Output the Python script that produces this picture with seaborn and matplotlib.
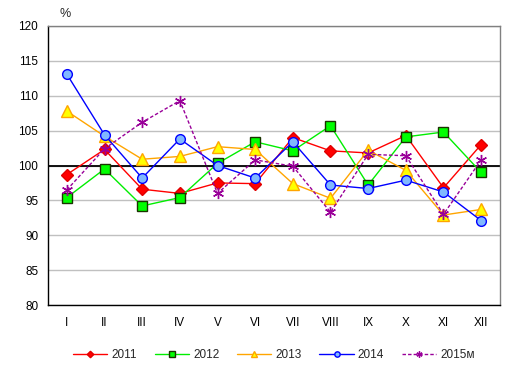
import pandas as pd
import matplotlib
matplotlib.use('Agg')
import matplotlib.pyplot as plt
import seaborn as sns

MONTHS = ['I', 'II', 'III', 'IV', 'V', 'VI', 'VII', 'VIII', 'IX', 'X', 'XI', 'XII']

Y2011 = [98.7, 102.3, 96.6, 96.0, 97.5, 97.4, 104.0, 102.1, 101.8, 104.3, 96.8, 103.0]
Y2012 = [95.4, 99.5, 94.2, 95.4, 100.3, 103.4, 102.1, 105.7, 97.2, 104.1, 104.8, 99.0]
Y2013 = [107.8, 104.2, 100.9, 101.3, 102.7, 102.3, 97.4, 95.3, 102.2, 99.3, 92.9, 93.7]
Y2014 = [113.1, 104.4, 98.2, 103.8, 100.0, 98.2, 103.4, 97.2, 96.7, 97.9, 96.2, 92.1]
Y2015 = [96.5, 102.4, 106.2, 109.3, 96.0, 100.8, 99.9, 93.3, 101.6, 101.4, 93.0, 100.8]

SERIES = [
    ('2011', Y2011, dict(color='#FF0000', marker='D', markersize=6, markerfacecolor='#FF0000',
                         markeredgecolor='#E00000', linestyle='-')),
    ('2012', Y2012, dict(color='#00EE00', marker='s', markersize=7, markerfacecolor='#00FF00',
                         markeredgecolor='#1A3300', linestyle='-')),
    ('2013', Y2013, dict(color='#FFA500', marker='^', markersize=8, markerfacecolor='#FFFF00',
                         markeredgecolor='#FFA500', linestyle='-')),
    ('2014', Y2014, dict(color='#0000FF', marker='o', markersize=7, markerfacecolor='#80B8FF',
                         markeredgecolor='#0000FF', linestyle='-')),
    ('2015м', Y2015, dict(color='#990099', marker=(6, 2, 0), markersize=8, markerfacecolor='#990099',
                          markeredgecolor='#990099', linestyle=(0, (2.5, 1.5)))),
]

sns.set_theme(style='white')
plt.rcParams['font.family'] = ['Liberation Sans', 'DejaVu Sans']

fig = plt.figure(figsize=(5.14, 3.92), dpi=100)
ax = fig.add_axes([48 / 514, 87 / 392, 452 / 514, 279 / 392])

x = list(range(len(MONTHS)))
for i, (name, vals, style) in enumerate(SERIES):
    sns.lineplot(x=x, y=vals, ax=ax, label=name, linewidth=1, markeredgewidth=1,
                 zorder=3 + i, **style)

ax.axhline(100, color='black', linewidth=1.3, zorder=2)

ax.set_xlim(-0.5, 11.5)
ax.set_ylim(80, 120)
ax.set_yticks(range(80, 121, 5))
ax.set_xticks(x)
ax.set_xticklabels(MONTHS)
ax.yaxis.grid(True, color='#C0C0C0', linewidth=1)
ax.xaxis.grid(False)
ax.tick_params(axis='both', length=0, labelsize=8.5, colors='black')
ax.xaxis.set_tick_params(pad=9)
ax.yaxis.set_tick_params(pad=7)

ax.spines['left'].set_color('black')
ax.spines['bottom'].set_color('black')
ax.spines['top'].set_color('#808080')
ax.spines['right'].set_color('#808080')
for s in ax.spines.values():
    s.set_linewidth(1)

ax.set_xlabel('')
ax.set_ylabel('')
fig.text(65 / 514, 1 - 14 / 392, '%', fontsize=9, ha='center', va='center')

ax.legend(loc='center', bbox_to_anchor=(0.5, -0.18), ncol=5, frameon=False,
          fontsize=8.5, handlelength=2.9, columnspacing=1.5, handletextpad=0.35, markerscale=0.55)

fig.savefig('out.png', dpi=100)
